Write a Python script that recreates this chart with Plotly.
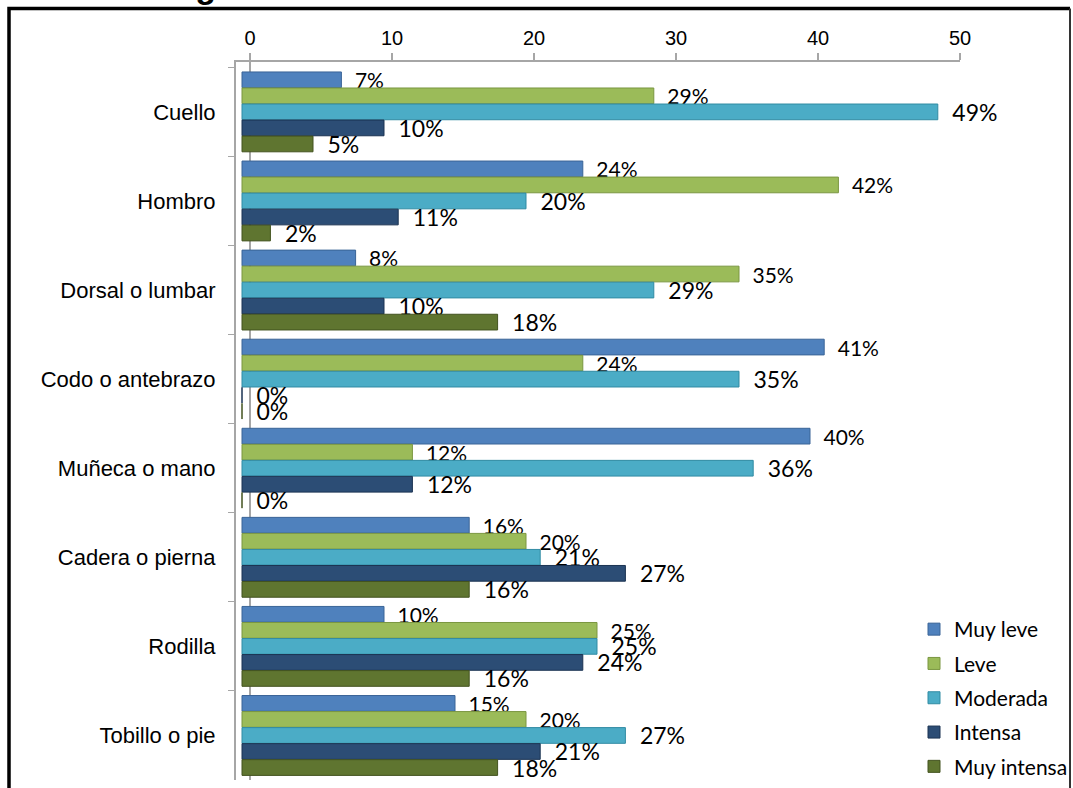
import plotly.graph_objects as go

categories = ["Cuello", "Hombro", "Dorsal o lumbar", "Codo o antebrazo",
              "Muñeca o mano", "Cadera o pierna", "Rodilla", "Tobillo o pie"]
series_names = ["Muy leve", "Leve", "Moderada", "Intensa", "Muy intensa"]
muy_leve    = [7, 24, 8, 41, 40, 16, 10, 15]
leve        = [29, 42, 35, 24, 12, 20, 25, 20]
moderada    = [49, 20, 29, 35, 36, 21, 25, 27]
intensa     = [10, 11, 10, 0, 12, 27, 24, 21]
muy_intensa = [5, 2, 18, 0, 0, 16, 16, 18]
tick_values = [0, 10, 20, 30, 40, 50]
title_text = "Figura 3. Intensidad de molestias de la muestra"

series_values = [muy_leve, leve, moderada, intensa, muy_intensa]
colors = ["#4F81BD", "#9BBB59", "#4BACC6", "#2C4D75", "#5F7530"]
line_colors = ["#3A6497", "#7A9640", "#318BA3", "#1B3352", "#43531F"]
label_sizes = [21, 21, 23, 23, 23]

W, H = 1073, 788
L, R, T, B = 236, 960, 62, 780   # plot area in pixels
s = 14.2                          # pixels per unit
bar0 = 242                        # pixel of value 0 for bars (3D front)
wall0 = 250                       # pixel of value 0 on the back wall axis

fig = go.Figure()
for name, vals, c, lc, fs in zip(series_names, series_values, colors, line_colors, label_sizes):
    fig.add_trace(go.Bar(
        y=categories, x=vals, name=name, orientation="h",
        marker=dict(color=c, line=dict(color=lc, width=1)),
        text=[f"\u2002{v}%" for v in vals], textposition="outside",
        textfont=dict(family="Lato, Calibri, sans-serif", size=fs, color="black"),
        constraintext="none", cliponaxis=False,
        legendgroup=name, hoverinfo="skip",
    ))

def px_x(p):
    return (p - L) / (R - L)

def px_y(p):
    return (B - p) / (B - T)

xl, xt, xr, yb = px_x(9), px_y(8.5), px_x(1070), px_y(800)
shapes = [
    dict(type="path", xref="paper", yref="paper",
         path=f"M {xl},{yb} L {xl},{xt} L {xr},{xt}",
         line=dict(color="black", width=3.5)),
    dict(type="line", xref="paper", yref="paper", x0=xr, x1=xr, y0=xt, y1=yb,
         line=dict(color="#333333", width=2)),
]

fig.update_layout(
    width=W, height=H,
    margin=dict(l=L, r=W - R, t=T, b=H - B, autoexpand=False),
    paper_bgcolor="white", plot_bgcolor="white",
    barmode="group", bargap=0.1, bargroupgap=0.02,
    showlegend=True,
    legend=dict(x=px_x(914), y=px_y(609), xanchor="left", yanchor="top",
                traceorder="grouped", tracegroupgap=4,
                font=dict(family="Lato, Calibri, sans-serif", size=21, color="black"),
                bgcolor="rgba(0,0,0,0)"),
    xaxis=dict(range=[(L - bar0) / s, (R - bar0) / s], visible=False,
               fixedrange=True, automargin=False),
    xaxis2=dict(overlaying="x", anchor="y", side="top", automargin=False,
                range=[(L - wall0) / s, (R - wall0) / s],
                tickvals=tick_values, showgrid=False,
                showline=True, linecolor="#A6A6A6", linewidth=2,
                ticks="outside", ticklen=7, tickcolor="#A6A6A6", tickwidth=1.5,
                zeroline=True, zerolinecolor="#A6A6A6", zerolinewidth=1.5,
                tickfont=dict(family="Arial, Liberation Sans, sans-serif", size=20, color="black")),
    yaxis=dict(range=[7.5, -0.56], type="category", automargin=False,
               showline=True, linecolor="#A6A6A6", linewidth=2,
               ticks="outside", ticklen=6, tickcolor="#A6A6A6", tickson="boundaries",
               showgrid=False, ticklabelstandoff=14,
               tickfont=dict(family="Arial, Liberation Sans, sans-serif", size=22, color="black")),
    shapes=shapes,
    annotations=[dict(text=f"<b>{title_text}</b>", xref="paper", yref="paper",
                      x=px_x(548), y=px_y(7), xanchor="center", yanchor="bottom",
                      showarrow=False,
                      font=dict(family="Arial, Liberation Sans, sans-serif", size=34, color="black"))],
)

fig.add_trace(go.Scatter(x=[], y=[], xaxis="x2", yaxis="y", showlegend=False, hoverinfo="skip"))

fig.write_html("out.html", config={"displayModeBar": False},
               post_script="document.body.style.margin='0';document.body.style.padding='0';")
